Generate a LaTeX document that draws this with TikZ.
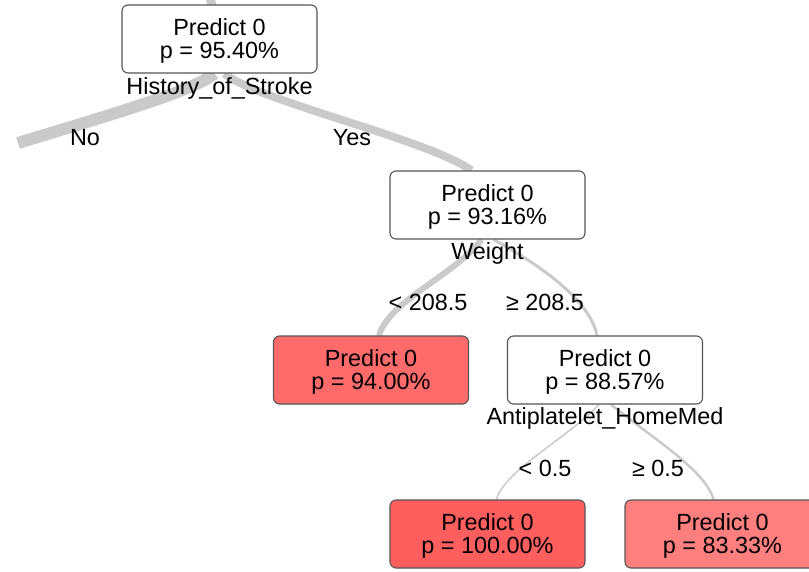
\documentclass[tikz,border=0pt]{standalone}
\usepackage{fontspec}
\setmainfont{Liberation Sans}
\usetikzlibrary{calc,backgrounds}
\definecolor{edgegray}{HTML}{CACACA}
\definecolor{boxline}{HTML}{555555}
\definecolor{redA}{HTML}{FF6B6B}
\definecolor{redB}{HTML}{FF5E5E}
\definecolor{redC}{HTML}{FF7F7F}
\newcommand{\upstrut}{\rule{0pt}{21bp}}
\tikzset{
  treebox/.style={draw=boxline, line width=1.1bp, rounded corners=6bp, fill=white,
    minimum width=195bp, minimum height=68bp, inner sep=0pt, align=center,
    font=\fontsize{23.5}{23}\selectfont},
  splitlabel/.style={inner sep=0pt, font=\fontsize{23.5}{23}\selectfont},
  branch/.style={draw=edgegray, line cap=butt},
}
\begin{document}
\begin{tikzpicture}[x=1bp,y=-1bp]
\useasboundingbox (0,0) rectangle (809,572);
% nodes
\path
  (219.5,39)  node[treebox] (root) {\upstrut Predict 0\\p = 95.40\%}
  (487.5,205) node[treebox] (n2) {\upstrut Predict 0\\p = 93.16\%}
  (371,370)   node[treebox, fill=redA] (n4) {\upstrut Predict 0\\p = 94.00\%}
  (605,370)   node[treebox] (n5) {\upstrut Predict 0\\p = 88.57\%}
  (487.5,534) node[treebox, fill=redB] (n10) {\upstrut Predict 0\\p = 100.00\%}
  (722.5,534) node[treebox, fill=redC] (n11) {\upstrut Predict 0\\p = 83.33\%};
% split labels
\node[splitlabel] (lroot) at (219.5,88) {History\_of\_Stroke};
\node[splitlabel] (ln2) at (487.5,253) {Weight};
\node[splitlabel] (ln5) at (605,418) {Antiplatelet\_HomeMed};
% branch labels
\node[splitlabel] (bNo) at (85,138) {No};
\node[splitlabel] (bYes) at (352,138) {Yes};
\node[splitlabel] (bLt1) at (428,302) {< 208.5};
\node[splitlabel] (bGe1) at (545,302) {≥ 208.5};
\node[splitlabel] (bLt2) at (545,468) {< 0.5};
\node[splitlabel] (bGe2) at (658,468) {≥ 0.5};
% free ends
\coordinate (topin) at (208,-12);
\coordinate (leftout) at (18,143);
% edges behind nodes
\begin{pgfonlayer}{background}
\draw[branch, line width=9bp] (root.center) -- (topin);
\draw[branch, line width=12bp] ($(root.south)+(-5,0)$) .. controls (195,90) and (120,112) .. (leftout);
\draw[branch, line width=8bp] ($(root.south)+(5,0)$) .. controls (255,100) and (430,140) .. ($(n2.north)+(-16,0)$);
\draw[branch, line width=6bp] ($(n2.south)+(-6,0)$) .. controls (455,275) and (390,300) .. ($(n4.north)+(8,0)$);
\draw[branch, line width=3bp] ($(n2.south)+(6,0)$) .. controls (540,265) and (590,300) .. ($(n5.north)+(-8,0)$);
\draw[branch, line width=1.5bp] ($(n5.south)+(-6,0)$) .. controls (565,440) and (505,470) .. ($(n10.north)+(9,0)$);
\draw[branch, line width=2.5bp] ($(n5.south)+(6,0)$) .. controls (655,440) and (705,470) .. ($(n11.north)+(-9,0)$);
\end{pgfonlayer}
\end{tikzpicture}
\end{document}
